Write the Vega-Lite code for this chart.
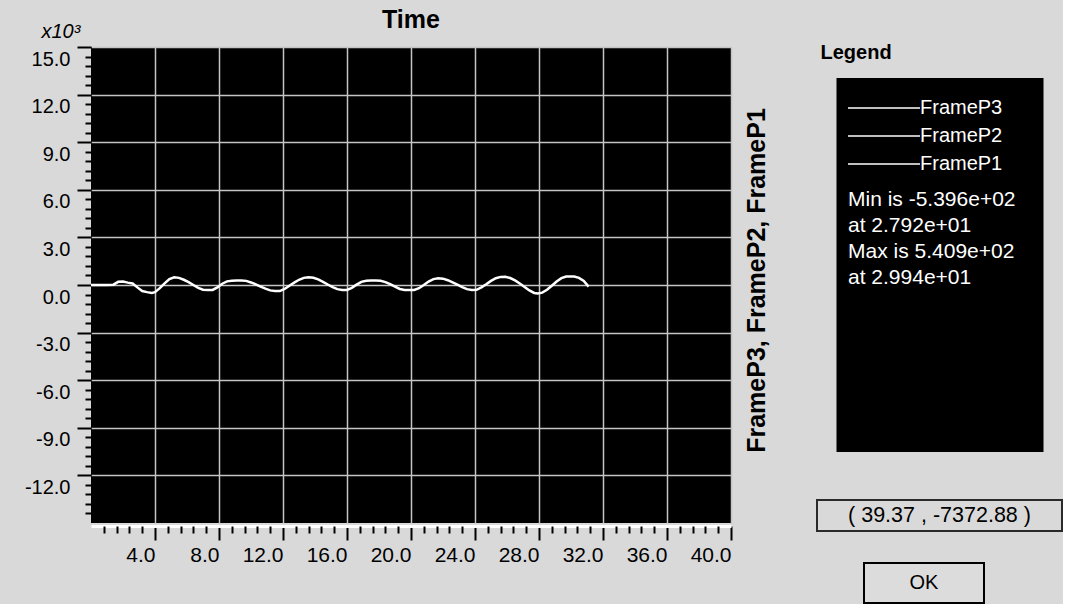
{
  "$schema": "https://vega.github.io/schema/vega-lite/v6.json",
  "background": "#d9d9d9",
  "padding": {"left": 24, "top": 8, "right": 0, "bottom": 0},
  "config": {"font": "Liberation Sans", "view": {"stroke": null}},
  "spacing": 45,
  "resolve": {"scale": {"color": "independent"}, "legend": {"color": "independent"}},
  "hconcat": [
    {
      "title": {"text": "Time", "fontSize": 25, "fontWeight": "bold", "color": "black", "anchor": "middle", "frame": "group", "offset": -12},
      "width": 640,
      "height": 476,
      "view": {"fill": "black", "stroke": null},
      "data": {"values": [
        {"t": 0, "v": 0}, {"t": 0.5, "v": 0}, {"t": 1.0, "v": 0}, {"t": 1.4, "v": 20}, {"t": 1.7, "v": 200},
        {"t": 2.0, "v": 220}, {"t": 2.3, "v": 150}, {"t": 2.6, "v": 100}, {"t": 2.9, "v": -150}, {"t": 3.2, "v": -380},
        {"t": 3.5, "v": -450}, {"t": 3.8, "v": -500}, {"t": 4.0, "v": -450}, {"t": 4.3, "v": -200}, {"t": 4.6, "v": 100},
        {"t": 4.9, "v": 380}, {"t": 5.2, "v": 490}, {"t": 5.5, "v": 450}, {"t": 5.8, "v": 330}, {"t": 6.1, "v": 180},
        {"t": 6.4, "v": 0}, {"t": 6.7, "v": -180}, {"t": 7.0, "v": -300}, {"t": 7.3, "v": -320}, {"t": 7.6, "v": -310},
        {"t": 7.9, "v": -150}, {"t": 8.2, "v": 80}, {"t": 8.5, "v": 230}, {"t": 8.8, "v": 270}, {"t": 9.1, "v": 280},
        {"t": 9.4, "v": 280}, {"t": 9.7, "v": 260}, {"t": 10.0, "v": 160}, {"t": 10.3, "v": 40}, {"t": 10.6, "v": -100},
        {"t": 10.9, "v": -230}, {"t": 11.2, "v": -340}, {"t": 11.5, "v": -380}, {"t": 11.8, "v": -380}, {"t": 12.1, "v": -250},
        {"t": 12.4, "v": -50}, {"t": 12.7, "v": 150}, {"t": 13.0, "v": 330}, {"t": 13.3, "v": 450}, {"t": 13.6, "v": 490},
        {"t": 13.9, "v": 460}, {"t": 14.2, "v": 360}, {"t": 14.5, "v": 200}, {"t": 14.8, "v": 30}, {"t": 15.1, "v": -130},
        {"t": 15.4, "v": -260}, {"t": 15.7, "v": -320}, {"t": 16.0, "v": -310}, {"t": 16.3, "v": -180}, {"t": 16.6, "v": 20},
        {"t": 16.9, "v": 200}, {"t": 17.2, "v": 270}, {"t": 17.5, "v": 280}, {"t": 17.8, "v": 280}, {"t": 18.1, "v": 270},
        {"t": 18.4, "v": 180}, {"t": 18.7, "v": 50}, {"t": 19.0, "v": -100}, {"t": 19.3, "v": -250}, {"t": 19.6, "v": -310},
        {"t": 19.9, "v": -310}, {"t": 20.2, "v": -310}, {"t": 20.5, "v": -200}, {"t": 20.8, "v": 0}, {"t": 21.1, "v": 220},
        {"t": 21.4, "v": 370}, {"t": 21.7, "v": 420}, {"t": 22.0, "v": 400}, {"t": 22.3, "v": 300}, {"t": 22.6, "v": 160},
        {"t": 22.9, "v": 20}, {"t": 23.2, "v": -130}, {"t": 23.5, "v": -260}, {"t": 23.8, "v": -320}, {"t": 24.1, "v": -300},
        {"t": 24.4, "v": -150}, {"t": 24.7, "v": 50}, {"t": 25.0, "v": 260}, {"t": 25.3, "v": 430}, {"t": 25.6, "v": 510},
        {"t": 25.9, "v": 520}, {"t": 26.2, "v": 440}, {"t": 26.5, "v": 290}, {"t": 26.8, "v": 100}, {"t": 27.1, "v": -120},
        {"t": 27.4, "v": -340}, {"t": 27.7, "v": -500}, {"t": 27.92, "v": -539.6}, {"t": 28.2, "v": -480}, {"t": 28.5, "v": -300},
        {"t": 28.8, "v": -50}, {"t": 29.1, "v": 220}, {"t": 29.4, "v": 430}, {"t": 29.7, "v": 530}, {"t": 29.94, "v": 540.9},
        {"t": 30.2, "v": 530}, {"t": 30.5, "v": 450}, {"t": 30.8, "v": 250}, {"t": 31.1, "v": -100}
      ]},
      "layer": [
        {
          "mark": {"type": "line", "color": "white", "strokeWidth": 2.5},
          "encoding": {
            "x": {"field": "t", "type": "quantitative", "scale": {"domain": [0, 40], "nice": false, "zero": false},
              "axis": {"orient": "bottom", "values": [4, 8, 12, 16, 20, 24, 28, 32, 36, 40], "format": ".1f", "title": null,
                "labelAlign": "right", "labelBaseline": "top", "labelFontSize": 21, "labelColor": "black", "labelPadding": 4,
                "tickSize": 14, "tickWidth": 2, "tickColor": "black", "offset": 3,
                "domain": true, "domainColor": "white", "domainWidth": 3,
                "grid": true, "gridColor": "#c4c4c4", "gridWidth": 1.5}},
            "y": {"field": "v", "type": "quantitative", "scale": {"domain": [-15000, 15000], "nice": false, "zero": false},
              "axis": {"orient": "left", "values": [-12000, -9000, -6000, -3000, 0, 3000, 6000, 9000, 12000, 15000],
                "labelExpr": "(datum.value < 0 ? '-' : '') + format(abs(datum.value) / 1000, '.1f')",
                "labelBaseline": "top", "labelOffset": 2, "labelFontSize": 20, "labelColor": "black", "labelPadding": 7,
                "tickSize": 14, "tickWidth": 2, "tickColor": "black", "domain": false,
                "grid": true, "gridColor": "#c4c4c4", "gridWidth": 1.5,
                "title": "x10³", "titleAngle": 0, "titleX": -50, "titleY": -6, "titleAlign": "left", "titleBaseline": "bottom",
                "titleFontStyle": "italic", "titleFontWeight": "normal", "titleFontSize": 20, "titleColor": "black"}}
          }
        },
        {
          "mark": {"type": "line", "opacity": 0},
          "encoding": {
            "x": {"field": "t", "type": "quantitative",
              "axis": {"orient": "bottom", "values": [0.8, 1.6, 2.4, 3.2, 4.8, 5.6, 6.4, 7.2, 8.8, 9.6, 10.4, 11.2, 12.8, 13.6, 14.4, 15.2, 16.8, 17.6, 18.4, 19.2, 20.8, 21.6, 22.4, 23.2, 24.8, 25.6, 26.4, 27.2, 28.8, 29.6, 30.4, 31.2, 32.8, 33.6, 34.4, 35.2, 36.8, 37.6, 38.4, 39.2],
                "labels": false, "grid": false, "domain": false, "title": null, "offset": 3,
                "tickSize": 7, "tickWidth": 2, "tickColor": "black"}},
            "y": {"field": "v", "type": "quantitative",
              "axis": {"orient": "left", "values": [-14400, -13800, -13200, -12600, -11400, -10800, -10200, -9600, -8400, -7800, -7200, -6600, -5400, -4800, -4200, -3600, -2400, -1800, -1200, -600, 600, 1200, 1800, 2400, 3600, 4200, 4800, 5400, 6600, 7200, 7800, 8400, 9600, 10200, 10800, 11400, 12600, 13200, 13800, 14400],
                "labels": false, "grid": false, "domain": false, "title": null,
                "tickSize": 6, "tickWidth": 2, "tickColor": "black"}}
          }
        },
        {
          "mark": {"type": "line", "opacity": 0},
          "encoding": {
            "x": {"field": "t", "type": "quantitative", "axis": null},
            "y": {"field": "v", "type": "quantitative",
              "axis": {"orient": "right", "labels": false, "ticks": false, "domain": false, "grid": false,
                "title": "FrameP3, FrameP2, FrameP1", "titleAngle": 270, "titleFontSize": 25, "titleFontWeight": "bold",
                "titleColor": "black", "titlePadding": 38, "titleY": 233}}
          }
        }
      ],
      "resolve": {"axis": {"x": "independent", "y": "independent"}}
    },
    {
      "spacing": -8,
      "center": true,
      "resolve": {"scale": {"color": "independent"}, "legend": {"color": "independent"}},
      "vconcat": [
        {
          "width": 1,
          "height": 1,
          "data": {"values": [{"a": 1}]},
          "mark": {"type": "point", "opacity": 0}
        },
        {
          "spacing": 47,
          "center": true,
          "vconcat": [
            {
              "title": {"text": "Legend", "fontSize": 20, "fontWeight": "bold", "color": "black", "anchor": "start", "dx": -16, "offset": 15},
              "width": 207,
              "height": 374,
              "view": {"fill": "black", "stroke": null},
              "layer": [
                {
                  "data": {"values": [{"series": "FrameP3"}, {"series": "FrameP2"}, {"series": "FrameP1"}]},
                  "mark": {"type": "point", "opacity": 0},
                  "encoding": {
                    "color": {"field": "series", "type": "nominal",
                      "scale": {"domain": ["FrameP3", "FrameP2", "FrameP1"], "range": ["white", "white", "white"]},
                      "legend": {"orient": "none", "legendX": 93, "legendY": 20, "title": null, "padding": 0,
                        "symbolType": "M-12,0H0", "symbolSize": 144, "symbolStrokeWidth": 1.5, "symbolOpacity": 1,
                        "labelColor": "white", "labelFontSize": 20, "labelOffset": -10, "rowPadding": 8}}
                  }
                },
                {
                  "data": {"values": [
                    {"row": 1, "text": "Min is -5.396e+02"},
                    {"row": 2, "text": "at 2.792e+01"},
                    {"row": 3, "text": "Max is 5.409e+02"},
                    {"row": 4, "text": "at 2.994e+01"}
                  ]},
                  "mark": {"type": "text", "align": "left", "baseline": "middle", "color": "white", "fontSize": 21, "dx": -92},
                  "encoding": {
                    "y": {"field": "row", "type": "ordinal", "axis": null, "scale": {"type": "point", "range": [122, 200], "padding": 0}},
                    "text": {"field": "text"}
                  }
                }
              ]
            },
            {
              "spacing": 28,
              "vconcat": [
                {
                  "width": 245,
                  "height": 31,
                  "view": {"fill": null, "stroke": "#2a2a2a", "strokeWidth": 2},
                  "data": {"values": [{"label": "( 39.37 , -7372.88 )"}]},
                  "mark": {"type": "text", "fontSize": 21.5, "color": "black"},
                  "encoding": {"text": {"field": "label"}}
                },
                {
                  "spacing": 42,
                  "hconcat": [
                    {
                      "width": 1,
                      "height": 1,
                      "data": {"values": [{"a": 1}]},
                      "mark": {"type": "point", "opacity": 0}
                    },
                    {
                      "width": 120,
                      "height": 40,
                      "view": {"fill": "#dcdcdc", "stroke": "black", "strokeWidth": 2},
                      "data": {"values": [{"label": "OK"}]},
                      "mark": {"type": "text", "fontSize": 20, "color": "black"},
                      "encoding": {"text": {"field": "label"}}
                    }
                  ]
                }
              ]
            }
          ]
        }
      ]
    }
  ]
}
